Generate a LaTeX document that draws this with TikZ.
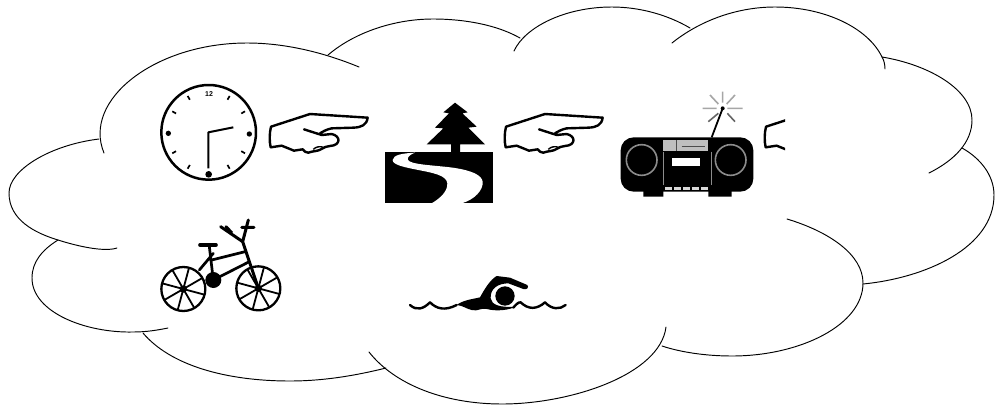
\documentclass[tikz,border=0pt]{standalone}
\usepackage{fontspec}
\setmainfont{Liberation Sans}
\tikzset{
  lobe/.style={line width=.95pt,black,line cap=round,line join=round},
  icon/.style={line join=round,x=.33333pt,y=-.33333pt},
  handline/.style={line width=2.4pt,black,line join=round,line cap=round},
  greyline/.style={line width=1.6pt,black!45},
}
\newcommand{\handshape}{%
  \draw[handline,fill=white] (393,170) -- (510,132) -- (683,143) .. controls (680,165) and (665,172) .. (640,173)
    -- (575,175) .. controls (560,178) and (548,185) .. (540,190)
    (492,178) -- (545,195) -- (575,192) .. controls (603,198) and (603,226) .. (570,228)
    .. controls (560,229) and (552,232) .. (548,235) .. controls (535,245) and (520,242) .. (505,248)
    .. controls (498,248) and (492,244) .. (488,238) -- (462,242) -- (425,227) -- (392,232)
    .. controls (388,215) and (388,190) .. (393,170);
  \draw[line width=1.4pt] (520,238) .. controls (528,230) and (540,228) .. (550,232);
}
\begin{document}
\begin{tikzpicture}[x=1pt,y=-1pt]
\useasboundingbox (0,0) rectangle (1004,405);
\fill[white] (0,0) rectangle (1004,405);
% cloud
\draw[lobe] (104,153) .. controls (82,100) and (155,43) .. (247,43) .. controls (290,43) and (330,55) .. (359,67);
\draw[lobe] (99,139) .. controls (50,145) and (9,170) .. (9,193) .. controls (9,220) and (35,233) .. (58,240) .. controls (80,247) and (105,252) .. (117,248);
\draw[lobe] (58,240) .. controls (42,250) and (32,262) .. (32,278) .. controls (32,312) and (85,333) .. (133,332) .. controls (147,332) and (158,330) .. (168,328);
\draw[lobe] (143,333) .. controls (170,365) and (225,381) .. (290,381) .. controls (325,381) and (358,375) .. (386,368);
\draw[lobe] (369,352) .. controls (395,385) and (445,404) .. (502,404) .. controls (570,404) and (660,375) .. (666,327);
\draw[lobe] (662,346) .. controls (680,352) and (705,356) .. (732,356) .. controls (800,356) and (863,325) .. (863,283) .. controls (863,255) and (830,232) .. (787,219);
\draw[lobe] (863,284) .. controls (925,278) and (994,248) .. (994,195) .. controls (994,175) and (980,158) .. (962,148);
\draw[lobe] (929,173) .. controls (955,160) and (972,142) .. (972,120) .. controls (972,90) and (930,65) .. (882,57);
\draw[lobe] (885,69) .. controls (885,65) and (884,60) .. (882,57) .. controls (868,28) and (825,7) .. (775,7) .. controls (735,7) and (698,22) .. (672,43);
\draw[lobe] (690,28) .. controls (668,15) and (640,7) .. (612,7) .. controls (565,7) and (525,27) .. (514,51);
\draw[lobe] (328,55) .. controls (355,32) and (395,19) .. (433,19) .. controls (465,19) and (497,25) .. (520,38);
% clock
\begin{scope}[shift={(140,70)},icon]
  \draw[line width=2.5pt] (206,187) circle (142);
  \foreach \a in {30,60,120,150,210,240,300,330}
    \draw[line width=1.7pt] (206,187)++(\a:113) -- ++(\a:13);
  \fill (85,190) circle (8) (328,192) circle (8) (206,313) circle (10);
  \draw[line width=2pt] (280,172) -- (205,187) -- (205,295);
  \node[inner sep=0pt,font=\bfseries\fontsize{7}{7}\selectfont] (twelve) at (207,72) {12};
\end{scope}
% hands
\begin{scope}[shift={(140,70)},icon]\handshape\end{scope}
\begin{scope}[shift={(375,70)},icon]\handshape\end{scope}
\begin{scope}
  \clip (750,100) rectangle (785,170);
  \begin{scope}[shift={(635,70)},icon]\handshape\end{scope}
\end{scope}
% tree and river
\begin{scope}[shift={(375,80)},icon]
  \fill (240,68) -- (278,97) -- (262,100) -- (305,140) -- (280,143) -- (330,193) -- (255,193) -- (255,217)
    -- (228,217) -- (228,193) -- (155,193) -- (205,145) -- (180,143) -- (222,100) -- (205,97) -- cycle;
  \fill (30,217) rectangle (355,370);
  \fill[white] (120,218) .. controls (80,220) and (55,225) .. (53,240)
    .. controls (53,255) and (90,262) .. (130,270)
    .. controls (170,278) and (215,285) .. (217,310)
    .. controls (218,335) and (195,355) .. (170,370)
    -- (260,370) .. controls (300,358) and (325,330) .. (323,305)
    .. controls (320,285) and (290,272) .. (240,264)
    .. controls (190,256) and (100,255) .. (98,238)
    .. controls (98,228) and (110,222) .. (120,218) -- cycle;
\end{scope}
% boombox
\begin{scope}[shift={(610,80)},icon]
  \fill[rounded corners=13pt] (32,172) rectangle (430,335);
  \fill (100,320) rectangle (160,350) (295,320) rectangle (365,350);
  \draw[greyline] (95,240) circle (46) (362,240) circle (46);
  \draw[greyline,line width=1pt] (160,215) -- (160,315) (305,215) -- (305,315);
  \fill[black!25] (160,180) rectangle (295,212);
  \draw[black!70,line width=1.2pt] (200,180) -- (200,212) (215,200) -- (285,200);
  \fill[white] (185,235) rectangle (270,258);
  \foreach \bx in {165,192,219,246,273}
    \fill[black!15] (\bx,320) rectangle ++(22,9);
  \draw[line width=1.8pt] (305,172) -- (338,85);
  \fill (338,85) circle (6);
  \draw[greyline,black!35] (278,85) -- (320,85) (352,85) -- (398,85) (338,35) -- (338,68)
    (300,45) -- (325,72) (375,45) -- (350,72);
  \draw[greyline,black!60] (295,125) -- (325,100) (375,125) -- (352,100);
\end{scope}
% bicycle
\begin{scope}[shift={(150,210)},icon]
  \foreach \cx/\cy in {100/237,325/235}{
    \draw[line width=2.3pt] (\cx,\cy) circle (66);
    \foreach \a in {15,60,105,150,195,240,285,330}
      \draw[line width=1.8pt] (\cx,\cy) -- ++(\a:66);
    \fill (\cx,\cy) circle (11);
  }
  \fill (190,210) circle (24);
  \draw[line width=2.7pt,line cap=round] (178,110) -- (190,210) (148,180) -- (190,130) (185,150) -- (285,125)
    (190,210) -- (298,155);
  \draw[line width=3pt,line cap=round] (325,235) -- (278,95) -- (212,50) (278,95) -- (295,30);
  \draw[line width=3pt,line cap=round] (275,52) -- (312,52) (228,50) -- (245,68);
  \draw[line width=3.6pt,line cap=round] (150,105) -- (198,105);
\end{scope}
% swimmer
\begin{scope}[shift={(400,265)},icon]
  \draw[line width=2.4pt,line cap=round,line join=round]
    (30,120) .. controls (50,138) and (70,132) .. (90,112)
    .. controls (110,132) and (135,138) .. (170,120)
    (340,128) .. controls (345,122) and (355,110) .. (362,112)
    .. controls (385,134) and (410,134) .. (435,112)
    .. controls (455,134) and (480,134) .. (497,120);
  \fill (170,120) .. controls (190,105) and (215,103) .. (240,97)
    .. controls (255,70) and (270,45) .. (290,33)
    -- (330,38) -- (382,60) .. controls (388,68) and (380,75) .. (370,72)
    -- (325,55) .. controls (295,55) and (270,70) .. (272,100)
    .. controls (275,120) and (300,128) .. (345,125)
    .. controls (330,135) and (290,140) .. (260,132)
    .. controls (240,128) and (235,140) .. (215,135)
    .. controls (200,132) and (190,122) .. (170,120) -- cycle;
  \fill (315,93) circle (29);
\end{scope}
\end{tikzpicture}
\end{document}
